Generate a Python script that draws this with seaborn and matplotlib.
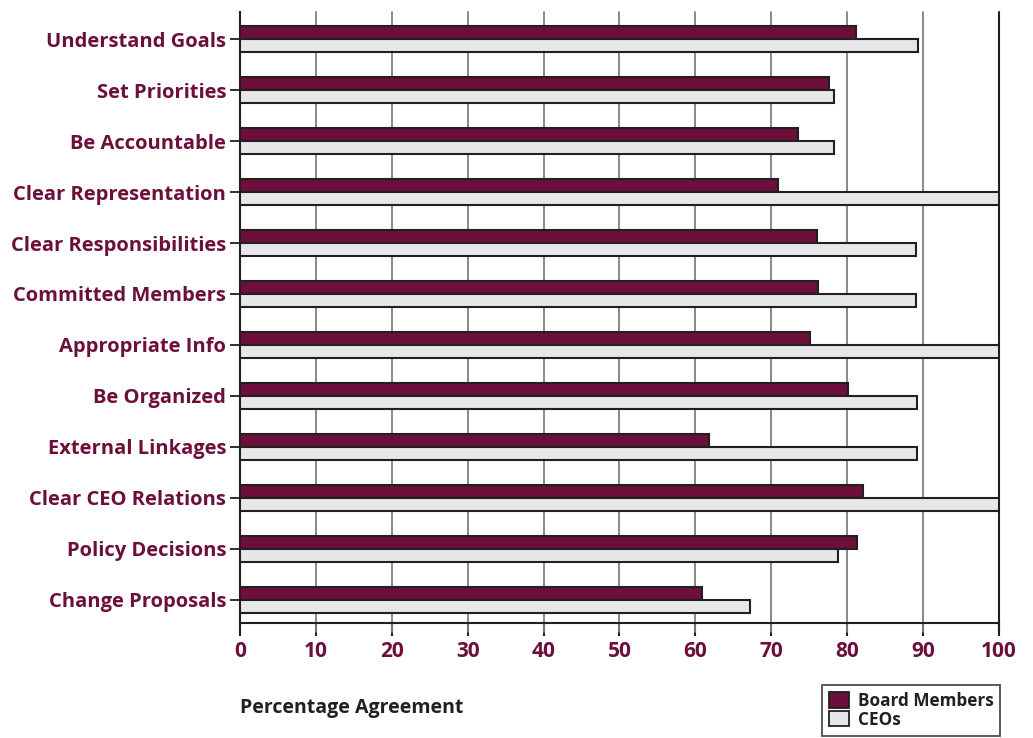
import matplotlib
matplotlib.use("Agg")
import matplotlib.pyplot as plt
import seaborn as sns
import pandas as pd
from matplotlib.patches import Patch

categories = ["Understand Goals", "Set Priorities", "Be Accountable", "Clear Representation",
              "Clear Responsibilities", "Committed Members", "Appropriate Info", "Be Organized",
              "External Linkages", "Clear CEO Relations", "Policy Decisions", "Change Proposals"]
board = [81.2, 77.6, 73.5, 70.9, 76.0, 76.2, 75.1, 80.1, 61.8, 82.1, 81.3, 60.9]
ceos = [89.3, 78.3, 78.3, 100.0, 89.1, 89.1, 100.0, 89.2, 89.2, 100.0, 78.8, 67.2]
series_names = ["Board Members", "CEOs"]
xticks = [0, 10, 20, 30, 40, 50, 60, 70, 80, 90, 100]

MAROON = "#6d0f3b"
LIGHT = "#e6e7e8"
DARK = "#231f20"

df = pd.DataFrame({
    "Category": categories * 2,
    "Value": board + ceos,
    "Series": [series_names[0]] * len(categories) + [series_names[1]] * len(categories),
})

sns.set_theme(style="white")
plt.rcParams["font.family"] = ["Open Sans", "DejaVu Sans"]

fig = plt.figure(figsize=(10.33, 7.38), dpi=100)
ax = fig.add_axes([0.2323, 0.156, 0.967 - 0.2323, 0.9837 - 0.156])

sns.barplot(data=df, y="Category", x="Value", hue="Series", order=categories,
            hue_order=series_names, palette=[MAROON, LIGHT], width=0.5, gap=0,
            edgecolor=DARK, linewidth=1.5, saturation=1, legend=False, ax=ax, zorder=3)

ax.set_xlim(0, 100)
ax.set_ylim(len(categories) - 0.55, -0.53)
ax.set_xticks(xticks)
ax.set_xticklabels([str(t) for t in xticks])
for t in xticks[1:-1]:
    ax.axvline(t, color="#7f7f7f", lw=1.3, zorder=1, ymin=-0.015, clip_on=False)
ax.axvline(100, color=DARK, lw=1.5, zorder=1, ymin=-0.015, clip_on=False)

for s in ["top", "right"]:
    ax.spines[s].set_visible(False)
ax.spines["left"].set_color(DARK)
ax.spines["left"].set_linewidth(1.5)
ax.spines["bottom"].set_color(DARK)
ax.spines["bottom"].set_linewidth(1.5)

ax.tick_params(axis="x", direction="out", length=9, width=1.5, color=DARK, pad=4,
               bottom=True, labelsize=15, labelcolor=MAROON)
ax.tick_params(axis="y", direction="out", length=7, width=1.3, color=DARK, pad=3,
               left=True, labelsize=14.5, labelcolor=MAROON)
for lbl in ax.get_xticklabels() + ax.get_yticklabels():
    lbl.set_fontweight("bold")

ax.set_xlabel("")
ax.set_ylabel("")

fig.text(240 / 1033, 1 - 708 / 738, "Percentage Agreement", fontsize=14, fontweight="bold",
         color=DARK, ha="left", va="center")

handles = [Patch(facecolor=MAROON, edgecolor=DARK, linewidth=1.3, label=series_names[0]),
           Patch(facecolor=LIGHT, edgecolor=DARK, linewidth=1.3, label=series_names[1])]
leg = fig.legend(handles=handles, loc="upper left", bbox_to_anchor=(822 / 1033, 1 - 685 / 738),
                 frameon=True, fancybox=False, edgecolor=DARK, fontsize=12.3,
                 handlelength=1.2, handleheight=1.0, handletextpad=0.5, labelspacing=0.05,
                 borderpad=0.4, borderaxespad=0)
leg.get_frame().set_linewidth(1.3)
for t in leg.get_texts():
    t.set_fontweight("bold")
    t.set_color(DARK)

fig.savefig("out.png", dpi=100, facecolor="white")
